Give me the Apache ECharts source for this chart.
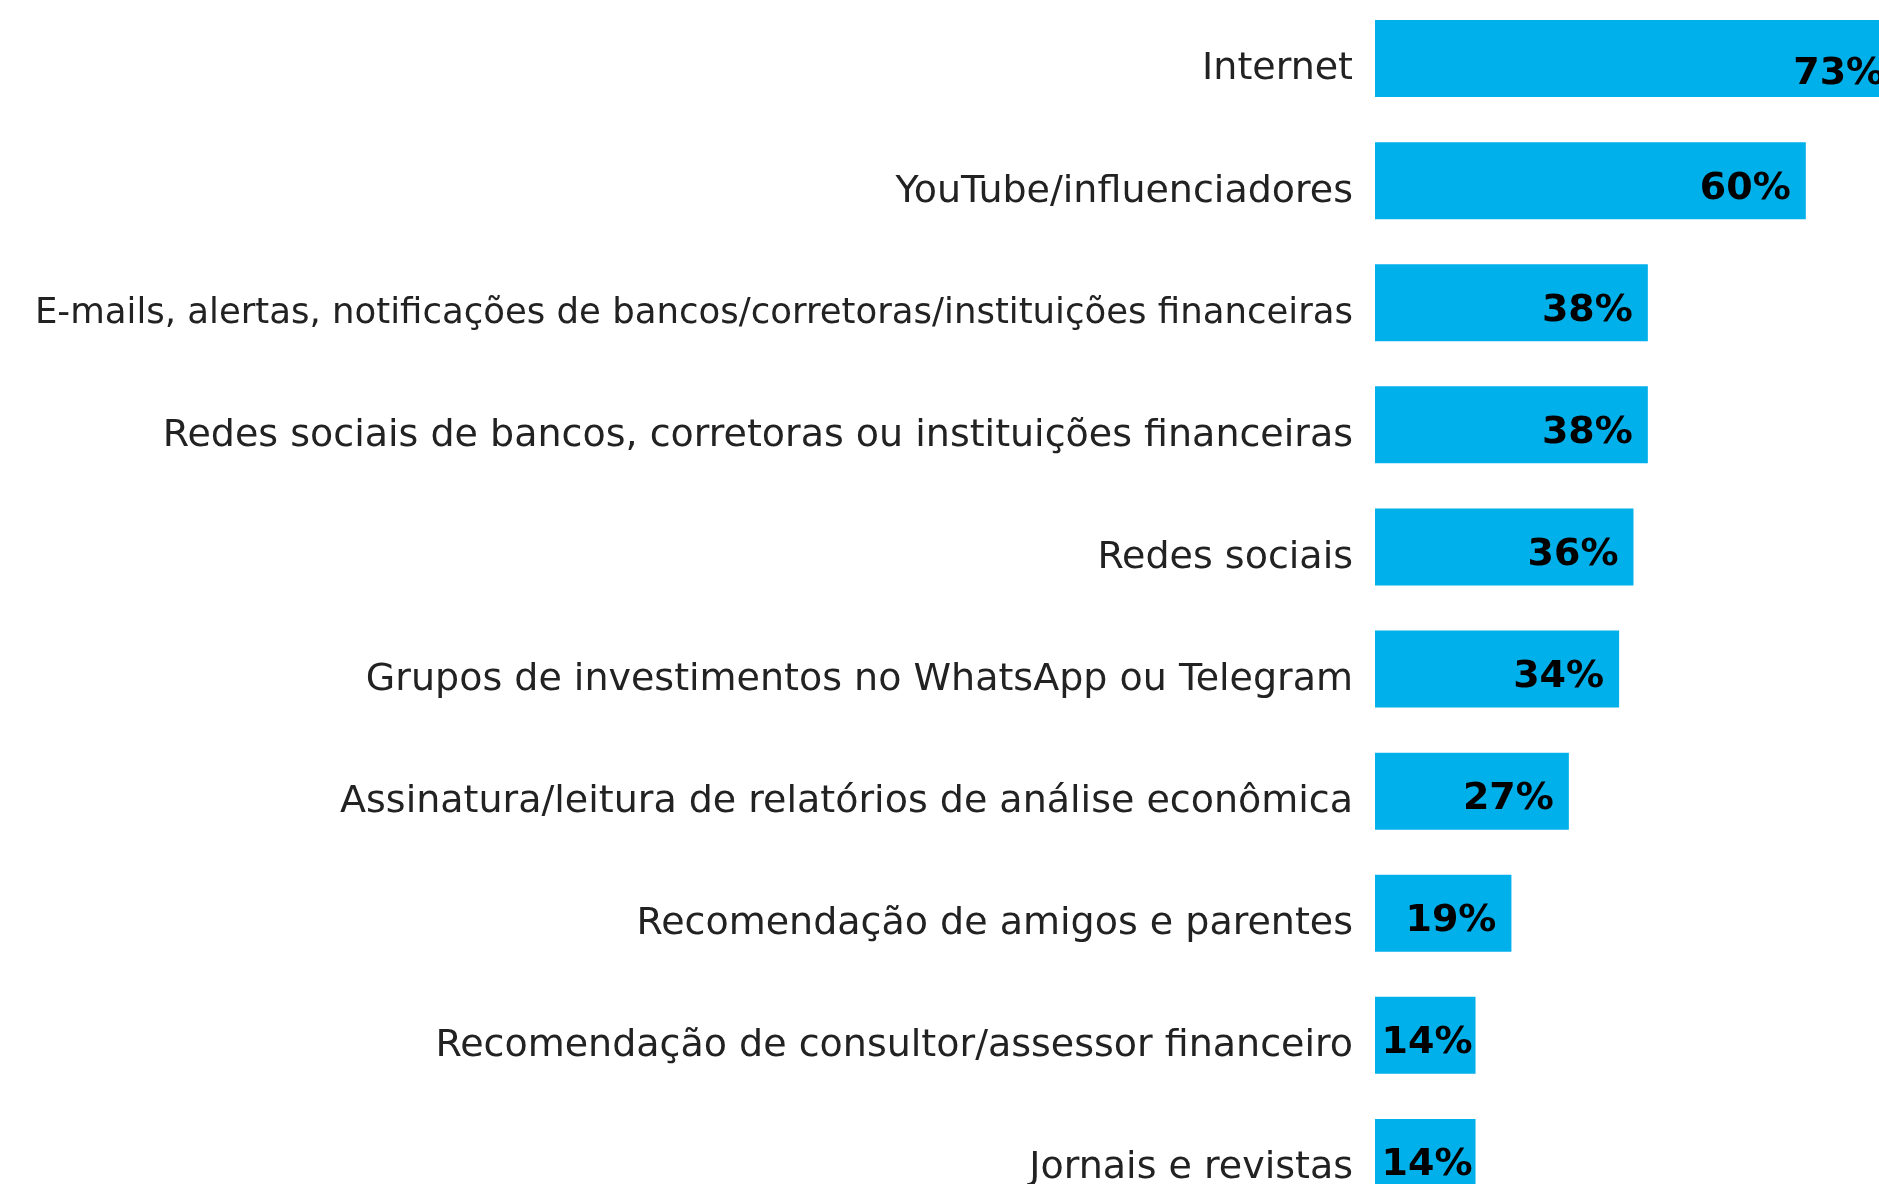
<!DOCTYPE html>
<html>
<head>
<meta charset="utf-8">
<script src="https://cdn.jsdelivr.net/npm/echarts@6/dist/echarts.min.js"></script>
<style>
  html, body { margin: 0; padding: 0; background: #fff; }
  #chart { width: 1879px; height: 1184px; }
</style>
</head>
<body>
<div id="chart"></div>
<script>
// categorias (de cima para baixo)
const categories = [
  "Internet",
  "YouTube/influenciadores",
  "E-mails, alertas, notificações de bancos/corretoras/instituições financeiras",
  "Redes sociais de bancos, corretoras ou instituições financeiras",
  "Redes sociais",
  "Grupos de investimentos no WhatsApp ou Telegram",
  "Assinatura/leitura de relatórios de análise econômica",
  "Recomendação de amigos e parentes",
  "Recomendação de consultor/assessor financeiro",
  "Jornais e revistas"
];
// percentuais
const values = [73, 60, 38, 38, 36, 34, 27, 19, 14, 14];

const chart = echarts.init(document.getElementById("chart"));

const barData = values.map((v, i) => {
  // o rótulo da primeira barra fica um pouco mais baixo no original
  if (i === 0) return { value: v, label: { offset: [0, 16] } };
  // barras curtas: o rótulo encosta no fim da barra
  if (v < 15) return { value: v, label: { distance: 3 } };
  return v;
});

const option = {
  animation: false,
  grid: {
    left: 1375,
    top: -2.5,
    width: 718,
    height: 1221,
    outerBoundsMode: "none"
  },
  xAxis: {
    type: "value",
    min: 0,
    max: 100,
    show: false
  },
  yAxis: {
    type: "category",
    data: categories,
    inverse: true,
    axisLine: { show: false },
    axisTick: { show: false },
    axisLabel: {
      margin: 22,
      color: "#222",
      fontFamily: "DejaVu Sans",
      fontSize: 38,
      padding: [22, 0, 0, 0],
      // o rótulo mais longo é mais estreito no original
      formatter: (val, idx) => (idx === 2 ? "{s|" + val + "}" : val),
      rich: {
        s: {
          fontFamily: "DejaVu Sans",
          fontSize: 35.5,
          color: "#222"
        }
      }
    }
  },
  series: [
    {
      type: "bar",
      data: barData,
      barWidth: 77,
      itemStyle: { color: "#00B0EA" },
      label: {
        show: true,
        position: "insideRight",
        distance: 15,
        offset: [0, 8],
        formatter: "{c}%",
        color: "#000",
        fontFamily: "DejaVu Sans",
        fontWeight: "bold",
        fontSize: 38
      }
    }
  ]
};

chart.setOption(option);
</script>
</body>
</html>
